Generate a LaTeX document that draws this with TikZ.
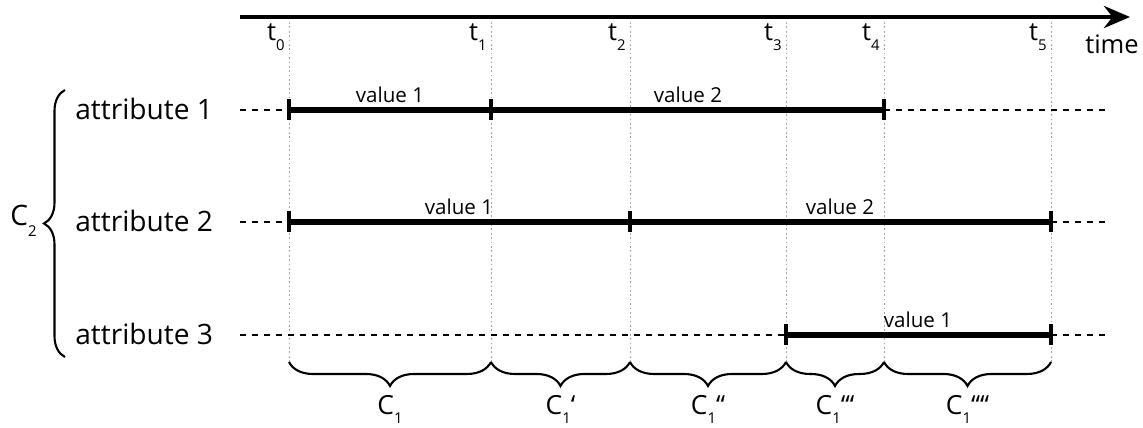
\documentclass[tikz,border=0pt]{standalone}
\usepackage{fontspec}
\setmainfont{Open Sans}
\usetikzlibrary{arrows.meta}
\usetikzlibrary{decorations.pathreplacing}
\newcommand{\lsub}[1]{\raisebox{-0.36em}{\fontsize{8.5}{9}\selectfont #1}}

\begin{document}
\begin{tikzpicture}[x=0.02cm,y=-0.02cm,
    guide/.style={gray!70, line width=0.5pt, dash pattern=on 1pt off 1.5pt},
    idle/.style={line width=0.9pt, dash pattern=on 3.4pt off 3.4pt},
    valbar/.style={line width=3.9pt},
    stopmark/.style={fill=black, inner sep=0pt, minimum width=0.09cm, minimum height=0.42cm},
    curly/.style={decorate, line width=1.2pt},
    attrlabel/.style={font=\fontsize{16}{18}\selectfont, anchor=base west, inner sep=0pt},
    vallabel/.style={font=\fontsize{11.7}{13}\selectfont, anchor=base, inner sep=0pt},
    tlabel/.style={font=\fontsize{14.5}{16}\selectfont, anchor=base east, inner sep=0pt},
    clabel/.style={font=\fontsize{15}{17}\selectfont, inner sep=0pt}]
    \useasboundingbox (0,0) rectangle (1143,428);

    % time axis
    \coordinate (ax0) at (240,17);
    \coordinate (ax1) at (1130,17);
    \draw[line width=2.6pt,-{Stealth[length=0.52cm,width=0.44cm]}] (ax0) -- (ax1);
    \node[font=\fontsize{14.5}{16}\selectfont, anchor=base, inner sep=0pt] (tm) at (1112,54) {time};

    % time points and guide lines
    \foreach \n/\x in {0/289,1/491,2/630,3/786,4/884,5/1051}{
        \coordinate (t\n) at (\x,22);
        \coordinate (b\n) at (\x,362);
        \draw[guide] (t\n) -- (b\n);
        \node[tlabel] (lt\n) at (\x-4,41) {t\lsub{\n}};
    }

    % rows
    \foreach \r/\y in {1/110,2/222,3/335}{
        \coordinate (row\r) at (240,\y);
        \coordinate (end\r) at (1108,\y);
        \node[attrlabel] (attr\r) at (75,\y+10) {attribute \r};
    }

    % attribute 1
    \draw[idle] (row1) -- (t0 |- row1);
    \draw[valbar] (t0 |- row1) -- (t4 |- row1);
    \draw[idle] (t4 |- row1) -- (end1);
    \node[stopmark] (m10) at (t0 |- row1) {};
    \node[stopmark] (m11) at (t1 |- row1) {};
    \node[stopmark] (m14) at (t4 |- row1) {};
    \node[vallabel] (v11) at (390,103) {value 1};
    \node[vallabel] (v12) at (688,103) {value 2};

    % attribute 2
    \draw[idle] (row2) -- (t0 |- row2);
    \draw[valbar] (t0 |- row2) -- (t5 |- row2);
    \draw[idle] (t5 |- row2) -- (end2);
    \node[stopmark] (m20) at (t0 |- row2) {};
    \node[stopmark] (m22) at (t2 |- row2) {};
    \node[stopmark] (m25) at (t5 |- row2) {};
    \node[vallabel] (v21) at (459,215) {value 1};
    \node[vallabel] (v22) at (840,215) {value 2};

    % attribute 3
    \draw[idle] (row3) -- (t3 |- row3);
    \draw[valbar] (t3 |- row3) -- (t5 |- row3);
    \draw[idle] (t5 |- row3) -- (end3);
    \node[stopmark] (m33) at (t3 |- row3) {};
    \node[stopmark] (m35) at (t5 |- row3) {};
    \node[vallabel] (v31) at (918,328) {value 1};

    % C2 brace
    \coordinate (cb0) at (65,357);
    \coordinate (cb1) at (65,90);
    \draw[curly, decoration={brace, amplitude=0.42cm}] (cb0) -- (cb1);
    \node[clabel, font=\fontsize{16}{18}\selectfont, anchor=base east] (c2) at (37,226) {C\lsub{2}};

    % C1 braces
    \foreach \a/\b/\q in {0/1/{},1/2/{‘},2/3/{‘‘},3/4/{‘‘‘},4/5/{‘‘‘‘}}{
        \draw[curly, decoration={brace, mirror, amplitude=0.48cm}] (b\a) -- (b\b)
            node[clabel, midway, anchor=north, yshift=-0.64cm] (c1\a) {C\lsub{1}\q};
    }
\end{tikzpicture}
\end{document}
